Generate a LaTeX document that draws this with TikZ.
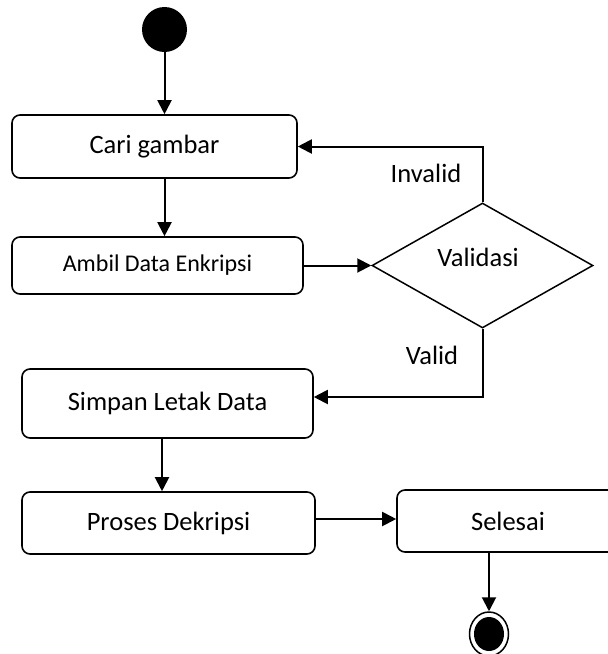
\documentclass[tikz,border=0pt]{standalone}
\usepackage{fontspec}
\setmainfont{Carlito}
\usetikzlibrary{shapes.geometric,arrows.meta,calc}
\begin{document}
\begin{tikzpicture}[x=1pt,y=-1pt,
  act/.style={draw,line width=1.6pt,rounded corners=8pt,inner sep=0pt,font=\fontsize{26.5}{30}\selectfont},
  conn/.style={line width=2pt,-{Triangle[length=14pt,width=14pt]}},
  lbl/.style={inner sep=0pt,font=\fontsize{26.5}{30}\selectfont}]
\useasboundingbox (0,0) rectangle (608,654);
\begin{scope}
\clip (0,0) rectangle (608,654);
\node[circle,fill=black,minimum size=45pt,inner sep=0pt] (start) at (164.5,29.5) {};
\node[act,minimum width=285pt,minimum height=63pt] (cari) at (154.5,146.5) {Cari gambar};
\node[act,minimum width=291pt,minimum height=57pt,font=\fontsize{24}{28}\selectfont] (ambil) at (157.5,265.5) {Ambil Data Enkripsi};
\node[diamond,draw,line width=1.5pt,minimum width=221pt,minimum height=125pt,inner sep=0pt] (dia) at (482.5,265.5) {};
\node[lbl] (vtext) at (478,257) {Validasi};
\node[act,minimum width=291pt,minimum height=69pt] (simpan) at (167.5,403.5) {Simpan Letak Data};
\node[act,minimum width=293pt,minimum height=62pt] (proses) at (168.5,523) {Proses Dekripsi};
\node[act,minimum width=222pt,minimum height=62pt] (selesai) at (508,521) {Selesai};
\node[ellipse,draw,line width=1.5pt,minimum width=39pt,minimum height=44pt,inner sep=0pt] (endo) at (489,634) {};
\node[ellipse,fill=black,minimum width=30pt,minimum height=34pt,inner sep=0pt] (endi) at (489,634) {};
\node[lbl] (invalid) at (426,173) {Invalid};
\node[lbl] (valid) at (432,355) {Valid};
\draw[conn] (start.south) -- (start.south |- cari.north);
\draw[conn] (start |- cari.south) -- (start |- ambil.north);
\draw[conn] (ambil.east) -- (ambil.east -| dia.west);
\draw[conn] (dia.north) |- (cari.east);
\draw[conn] (dia.south) |- ([yshift=6.5pt]simpan.east);
\draw[conn] (162,0 |- simpan.south) -- (162,0 |- proses.north);
\draw[conn] ([yshift=4pt]proses.east) -- ([yshift=4pt]proses.east -| selesai.west);
\draw[conn] (endo.north |- selesai.south) -- (endo.north);
\end{scope}
\end{tikzpicture}
\end{document}
